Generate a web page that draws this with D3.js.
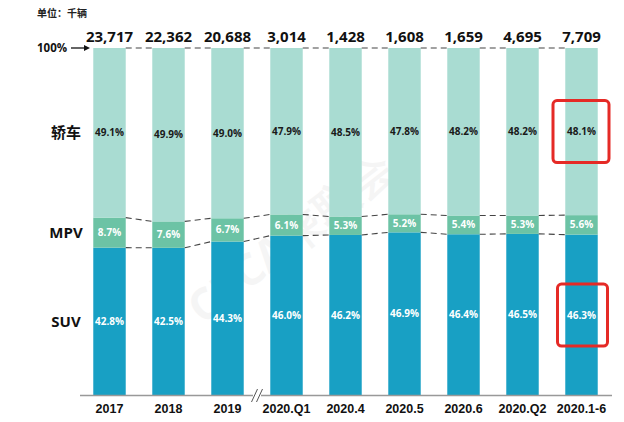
<!DOCTYPE html>
<html><head><meta charset="utf-8">
<script src="https://cdn.jsdelivr.net/npm/d3@7"></script>
<style>body{margin:0;background:#fff}svg{display:block}</style>
</head><body>
<svg id="c" width="624" height="422"></svg>
<script>
const categories = ["2017","2018","2019","2020.Q1","2020.4","2020.5","2020.6","2020.Q2","2020.1-6"];
const totals = ["23,717","22,362","20,688","3,014","1,428","1,608","1,659","4,695","7,709"];
const suv = [42.8,42.5,44.3,46.0,46.2,46.9,46.4,46.5,46.3];
const mpv = [8.7,7.6,6.7,6.1,5.3,5.2,5.4,5.3,5.6];
const sedan = [49.1,49.9,49.0,47.9,48.5,47.8,48.2,48.2,48.1];
const seriesNames = ["SUV","MPV","轿车"];
const colors = ["#18a0c4","#6cc3a5","#a9dcd2"];
const labelColors = ["#ffffff","#ffffff","#1a1a1a"];
const highlighted = ["2020.1-6"];

const svg = d3.select("#c");
const x = d3.scaleBand().domain(categories).range([80,611]).paddingInner(0.45).paddingOuter(0.225);
const y = d3.scaleLinear().domain([0,1]).range([395.5,48]);

const rows = categories.map((c,i)=>({cat:c, SUV:suv[i], MPV:mpv[i], "轿车":sedan[i], sum:suv[i]+mpv[i]+sedan[i]}));
const normRows = rows.map(r=>({cat:r.cat, SUV:r.SUV/r.sum, MPV:r.MPV/r.sum, "轿车":r["轿车"]/r.sum, raw:r}));
const stack = d3.stack().keys(seriesNames)(normRows);

// watermark
svg.append("text").attr("transform","translate(300,250) rotate(-38)")
  .attr("text-anchor","middle").attr("font-family","Open Sans, sans-serif").attr("font-weight",700)
  .attr("font-size",44).attr("fill","#000").attr("opacity",0.035).text("CPCA乘联会");

// bars
stack.forEach((layer,k)=>{
  svg.append("g").selectAll("rect").data(layer).join("rect")
    .attr("x",d=>x(d.data.cat)).attr("width",x.bandwidth())
    .attr("y",d=>y(d[1])).attr("height",d=>y(d[0])-y(d[1]))
    .attr("fill",colors[k]);
  svg.append("g").selectAll("text").data(layer).join("text")
    .attr("x",d=>x(d.data.cat)+x.bandwidth()/2)
    .attr("y",d=>(y(d[0])+y(d[1]))/2+3.5)
    .attr("text-anchor","middle").attr("font-family","Open Sans, sans-serif").attr("font-weight",700)
    .attr("font-size",10).attr("fill",labelColors[k])
    .text(d=>d.data.raw[seriesNames[k]].toFixed(1)+"%");
});

// dashed connectors
const bounds = [stack[0].map(d=>d[1]), stack[1].map(d=>d[1]), stack[2].map(d=>d[1])];
const conn = svg.append("g").attr("stroke","#444").attr("stroke-width",1.1).attr("stroke-dasharray","6,4").attr("fill","none");
bounds.forEach(b=>{
  for(let i=0;i<categories.length-1;i++){
    conn.append("line")
      .attr("x1",x(categories[i])+x.bandwidth()).attr("y1",y(b[i]))
      .attr("x2",x(categories[i+1])).attr("y2",y(b[i+1]));
  }
});

// totals
svg.append("g").selectAll("text").data(categories).join("text")
  .attr("x",d=>x(d)+x.bandwidth()/2).attr("y",42)
  .attr("text-anchor","middle").attr("font-family","Open Sans, sans-serif").attr("font-weight",700)
  .attr("font-size",15).attr("fill","#111").text((d,i)=>totals[i]);

// x axis
const xAxis = svg.append("g").attr("transform","translate(0,395.5)")
  .call(d3.axisBottom(x).tickSize(0).tickPadding(9));
xAxis.select(".domain").attr("stroke","#999").attr("stroke-width",1.5).attr("d","M80,0H612");
xAxis.selectAll("text").attr("font-family","Liberation Sans, Arial, sans-serif").attr("font-weight",700)
  .attr("font-size",12.5).attr("fill","#111");

// axis break
const bx = (x(categories[2])+x.bandwidth()+x(categories[3]))/2;
svg.append("rect").attr("x",bx-4).attr("y",393).attr("width",8).attr("height",5).attr("fill","#fff");
[-2.5,2.5].forEach(o=>svg.append("line").attr("x1",bx+o-3).attr("y1",402).attr("x2",bx+o+3).attr("y2",389)
  .attr("stroke","#555").attr("stroke-width",1));

// series labels on left
const labelY = [ (y(stack[0][0][0])+y(stack[0][0][1]))/2, (y(stack[1][0][0])+y(stack[1][0][1]))/2, (y(stack[2][0][0])+y(stack[2][0][1]))/2 ];
svg.append("g").selectAll("text").data(seriesNames).join("text")
  .attr("x",66).attr("y",(d,i)=>labelY[i]+5.5).attr("text-anchor","middle")
  .attr("font-family","Open Sans, Noto Sans CJK SC, sans-serif").attr("font-weight",700)
  .attr("font-size",15).attr("fill","#111").text(d=>d);

// 100% arrow
svg.append("text").attr("x",37).attr("y",52).attr("font-family","Open Sans, sans-serif").attr("font-weight",700)
  .attr("font-size",11.5).attr("fill","#111").text("100%");
svg.append("line").attr("x1",71).attr("y1",48).attr("x2",86).attr("y2",48).attr("stroke","#111").attr("stroke-width",1.3);
svg.append("path").attr("d","M84,45 L90,48 L84,51 Z").attr("fill","#111");

// unit
svg.append("text").attr("x",37).attr("y",17).attr("font-family","Noto Sans CJK SC, sans-serif").attr("font-weight",700)
  .attr("font-size",10).attr("fill","#222").text("单位：千辆");

// highlight boxes
highlighted.forEach(c=>{
  const i = categories.indexOf(c);
  const layers=[stack[2][i], stack[0][i]];
  layers.forEach((d,j)=>{
    const cy=(y(d[0])+y(d[1]))/2;
    const w = j===0?56:50, cx = x(c)+x.bandwidth()/2 + (j===0?-0.5:1);
    svg.append("rect").attr("x",cx-w/2).attr("y",cy-31).attr("width",w).attr("height",62)
      .attr("rx",4).attr("fill","none").attr("stroke","#e52a26").attr("stroke-width",3);
  });
});
</script>
</body></html>
